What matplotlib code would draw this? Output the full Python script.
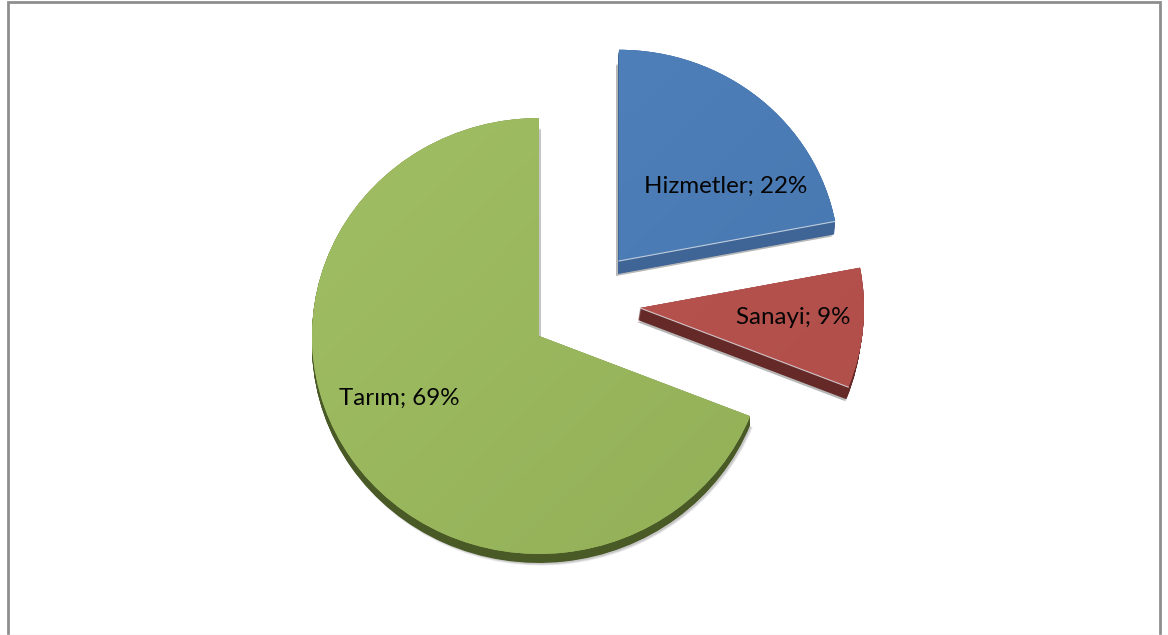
import numpy as np
import matplotlib
matplotlib.use("Agg")
import matplotlib.pyplot as plt
from matplotlib.patches import Wedge, Rectangle
from matplotlib.colors import to_rgb

categories = ["Hizmetler", "Sanayi", "Tarım"]
shares = [22, 9, 69]

W, H = 1168, 635
YS = 0.96  # elliptical squash of the pie


def Y(py):
    return (H - py) / YS


apex = [(619, 261), (640, 308), (539, 336)]
radii = [220, 224, 227]
face_a = ["#5082BD", "#BA5551", "#A0BE63"]
face_b = ["#4776AD", "#B04E4A", "#93B058"]
side = ["#3F6596", "#652A27", "#4A5A26"]
depth = [(-1, 13), (-2, 12), (0, 9)]
shadow = [(-3, 15), (-3, 14), (2, 11)]
shadow_alpha = [0.08, 0.08, 0.06]
label_xy = [(726, 186), (793.5, 317), (399, 398)]

fig = plt.figure(figsize=(W / 100, H / 100), dpi=100, facecolor="white")
ax = fig.add_axes([0, 0, 1, 1])
wedges, _ = ax.pie(shares, startangle=90, counterclock=False, radius=1)
ax.set_aspect("auto")
ax.set_xlim(0, W)
ax.set_ylim(0, H / YS)
ax.axis("off")

for i, w in enumerate(wedges):
    px, py = apex[i]
    r = radii[i]
    t1, t2 = w.theta1, w.theta2
    # soft shadow
    for grow in (3, 2, 1, 0):
        sx, sy = shadow[i]
        ax.add_patch(Wedge((px + sx, Y(py + sy)), r + grow * 0.6 - 1, t1, t2,
                           fc="#000000", ec="none", alpha=shadow_alpha[i], zorder=1 + i * 5))
    # extruded side: swept copies of the slice
    dx, dy = depth[i]
    for f in np.linspace(0, 1, 2 * dy + 1):
        ax.add_patch(Wedge((px + dx * f, Y(py + dy * f)), r, t1, t2,
                           fc=side[i], ec="none", zorder=2 + i * 5))
    # top face
    w.set_center((px, Y(py)))
    w.set_radius(r)
    w.set_facecolor(face_a[i])
    w.set_edgecolor("none")
    w.set_zorder(3 + i * 5)
    # subtle gradient
    a, b = np.array(to_rgb(face_a[i])), np.array(to_rgb(face_b[i]))
    g = np.linspace(0, 1, 128)
    gx, gy = np.meshgrid(g, g)
    tt = ((gx + gy) / 2)[..., None]
    img = a * (1 - tt) + b * tt
    im = ax.imshow(img, extent=(px - r, px + r, Y(py) - r, Y(py) + r), aspect="auto",
                   origin="upper", zorder=4 + i * 5, interpolation="bilinear")
    im.set_clip_path(w)
    # light bevel along the front edge of exploded slices
    if i < 2:
        edge_angle = np.radians(t1)
        ax.plot([px, px + r * np.cos(edge_angle)],
                [Y(py), Y(py) + r * np.sin(edge_angle)],
                color="#DDE3EA", lw=0.8, alpha=0.8, zorder=4.5 + i * 5)

ax.set_xlim(0, W)
ax.set_ylim(0, H / YS)

for (lx, ly), cat, val in zip(label_xy, categories, shares):
    ax.text(lx, Y(ly), f"{cat}; {val}%", ha="center", va="center",
            fontsize=17.4, family="Lato", color="#050505", zorder=30)

# outer chart frame
fig.add_artist(Rectangle((7.5 / W, -5 / H), (1160 - 7.5) / W, (H + 5 - 2) / H,
                         transform=fig.transFigure, fc="none", ec="#8E8E8E", lw=2.0))
fig.add_artist(plt.Line2D([0, 1], [0.5 / H, 0.5 / H], transform=fig.transFigure,
                          color="#EEEEEE", lw=1))

fig.savefig("out.png", dpi=100, facecolor="white")
